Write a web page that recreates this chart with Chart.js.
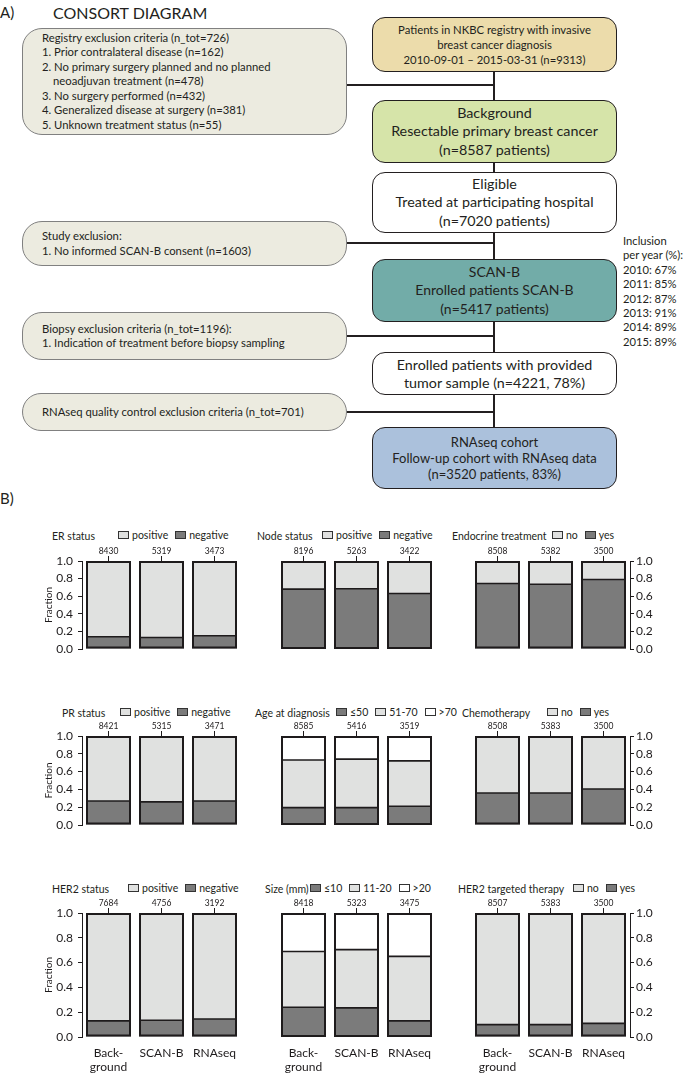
<!DOCTYPE html>
<html><head><meta charset="utf-8">
<script src="https://cdn.jsdelivr.net/npm/chart.js@4.4.0/dist/chart.umd.min.js"></script>
<style>
body{margin:0;background:#fff;}
#root{position:relative;width:685px;height:1073px;overflow:hidden;font-family:Lato,'Open Sans',sans-serif;color:#231f20;}
.rbox{position:absolute;left:372px;width:245px;box-sizing:border-box;border:1.5px solid #231f20;border-radius:13px;display:flex;align-items:center;justify-content:center;text-align:center;background:#fff;white-space:nowrap;}
.lbox{position:absolute;left:22px;width:325px;box-sizing:border-box;border:1.5px solid #808080;border-radius:20px;background:#ecebe0;font-size:11.3px;line-height:14.4px;padding-left:19px;display:flex;flex-direction:column;justify-content:center;white-space:nowrap;}
.hl{position:absolute;height:1.5px;background:#231f20;}
.vl{position:absolute;width:1.5px;background:#231f20;}
canvas{position:absolute;}
.ttl{position:absolute;font-size:10.5px;line-height:12px;white-space:nowrap;}
.leg{position:absolute;font-size:10.5px;line-height:12px;white-space:nowrap;display:flex;align-items:center;}
.sw{display:inline-block;width:9px;height:6px;border:1px solid #333;margin-right:3px;}
.it{display:flex;align-items:center;margin-right:7px;}
</style>
</head>
<body>
<div id="root">
  <div style="position:absolute;left:0;top:3px;font-size:15px;line-height:18px;">A)</div>
  <div style="position:absolute;left:53px;top:3px;font-size:16px;line-height:20px;">CONSORT DIAGRAM</div>

  <div class="vl" style="left:493px;top:72px;height:355px;"></div>
  <div class="hl" style="left:346px;top:84px;width:148px;"></div>
  <div class="hl" style="left:346px;top:242px;width:148px;"></div>
  <div class="hl" style="left:346px;top:335px;width:148px;"></div>
  <div class="hl" style="left:346px;top:411px;width:148px;"></div>

  <div class="lbox" style="top:28px;height:107px;">
    <div>Registry exclusion criteria (n_tot=726)</div>
    <div>1. Prior contralateral disease (n=162)</div>
    <div>2. No primary surgery planned and no planned</div>
    <div style="padding-left:11px">neoadjuvan treatment (n=478)</div>
    <div>3. No surgery performed (n=432)</div>
    <div>4. Generalized disease at surgery (n=381)</div>
    <div>5. Unknown treatment status (n=55)</div>
  </div>
  <div class="lbox" style="top:221px;height:45px;">
    <div>Study exclusion:</div>
    <div>1. No informed SCAN-B consent (n=1603)</div>
  </div>
  <div class="lbox" style="top:312px;height:48px;">
    <div>Biopsy exclusion criteria (n_tot=1196):</div>
    <div>1. Indication of treatment before biopsy sampling</div>
  </div>
  <div class="lbox" style="top:393px;height:38px;">
    <div>RNAseq quality control exclusion criteria (n_tot=701)</div>
  </div>

  <div class="rbox" style="top:17px;height:55px;background:#ecdcab;font-size:11.3px;line-height:15px;">
    <div>Patients in NKBC registry with invasive<br>breast cancer diagnosis<br>2010-09-01 – 2015-03-31 (n=9313)</div>
  </div>
  <div class="rbox" style="top:100px;height:63px;background:#d6e4a9;font-size:14.3px;line-height:18.5px;">
    <div>Background<br>Resectable primary breast cancer<br>(n=8587 patients)</div>
  </div>
  <div class="rbox" style="top:172px;height:61px;font-size:14.3px;line-height:18.5px;">
    <div>Eligible<br>Treated at participating hospital<br>(n=7020 patients)</div>
  </div>
  <div class="rbox" style="top:259px;height:63px;background:#72aca8;font-size:14px;line-height:18.5px;">
    <div>SCAN-B<br>Enrolled patients SCAN-B<br>(n=5417 patients)</div>
  </div>
  <div class="rbox" style="top:352px;height:43px;font-size:14.3px;line-height:18px;">
    <div>Enrolled patients with provided<br>tumor sample (n=4221, 78%)</div>
  </div>
  <div class="rbox" style="top:427px;height:62px;background:#abc1dc;font-size:13px;line-height:16px;">
    <div>RNAseq cohort<br>Follow-up cohort with RNAseq data<br>(n=3520 patients, 83%)</div>
  </div>

  <div style="position:absolute;left:623px;top:234px;font-size:11.2px;line-height:14.4px;white-space:nowrap;">
    Inclusion<br>per year (%):<br>2010: 67%<br>2011: 85%<br>2012: 87%<br>2013: 91%<br>2014: 89%<br>2015: 89%
  </div>

  <div style="position:absolute;left:0;top:489px;font-size:15px;line-height:18px;">B)</div>
</div>

<script>
// ---------- data ----------
const groupLabels = [['Back-', 'ground'], 'SCAN-B', 'RNAseq'];
const yTickLabels = ['0.0', '0.2', '0.4', '0.6', '0.8', '1.0'];

const erN = ['8430', '5319', '3473'];
const erNegative = [0.14, 0.13, 0.15];
const erPositive = [0.86, 0.87, 0.85];

const nodeN = ['8196', '5263', '3422'];
const nodeNegative = [0.68, 0.685, 0.63];
const nodePositive = [0.32, 0.315, 0.37];

const endoN = ['8508', '5382', '3500'];
const endoYes = [0.745, 0.735, 0.79];
const endoNo = [0.255, 0.265, 0.21];

const prN = ['8421', '5315', '3471'];
const prNegative = [0.27, 0.26, 0.27];
const prPositive = [0.73, 0.74, 0.73];

const ageN = ['8585', '5416', '3519'];
const ageUpTo50 = [0.195, 0.195, 0.21];
const age51to70 = [0.535, 0.545, 0.51];
const ageOver70 = [0.27, 0.26, 0.28];

const chemoN = ['8508', '5383', '3500'];
const chemoYes = [0.36, 0.36, 0.405];
const chemoNo = [0.64, 0.64, 0.595];

const her2N = ['7684', '4756', '3192'];
const her2Negative = [0.13, 0.135, 0.145];
const her2Positive = [0.87, 0.865, 0.855];

const sizeN = ['8418', '5323', '3475'];
const sizeUpTo10 = [0.24, 0.235, 0.13];
const size11to20 = [0.45, 0.47, 0.52];
const sizeOver20 = [0.31, 0.295, 0.35];

const her2tN = ['8507', '5383', '3500'];
const her2tYes = [0.10, 0.10, 0.11];
const her2tNo = [0.90, 0.90, 0.89];

// ---------- styles ----------
const DARK = '#7b7b7b', LIGHT = '#e0e1e0', WHITE = '#ffffff', INK = '#1e1b1c';

const panels = [
  {title: 'ER status', n: erN, series: [['negative', erNegative, DARK], ['positive', erPositive, LIGHT]], legend: ['positive', 'negative']},
  {title: 'Node status', n: nodeN, series: [['negative', nodeNegative, DARK], ['positive', nodePositive, LIGHT]], legend: ['positive', 'negative']},
  {title: 'Endocrine treatment', n: endoN, series: [['yes', endoYes, DARK], ['no', endoNo, LIGHT]], legend: ['no', 'yes']},
  {title: 'PR status', n: prN, series: [['negative', prNegative, DARK], ['positive', prPositive, LIGHT]], legend: ['positive', 'negative']},
  {title: 'Age at diagnosis', n: ageN, series: [['≤50', ageUpTo50, DARK], ['51-70', age51to70, LIGHT], ['>70', ageOver70, WHITE]], legend: ['≤50', '51-70', '>70']},
  {title: 'Chemotherapy', n: chemoN, series: [['yes', chemoYes, DARK], ['no', chemoNo, LIGHT]], legend: ['no', 'yes']},
  {title: 'HER2 status', n: her2N, series: [['negative', her2Negative, DARK], ['positive', her2Positive, LIGHT]], legend: ['positive', 'negative']},
  {title: 'Size (mm)', n: sizeN, series: [['≤10', sizeUpTo10, DARK], ['11-20', size11to20, LIGHT], ['>20', sizeOver20, WHITE]], legend: ['≤10', '11-20', '>20']},
  {title: 'HER2 targeted therapy', n: her2tN, series: [['yes', her2tYes, DARK], ['no', her2tNo, LIGHT]], legend: ['no', 'yes']}
];

// ---------- layout ----------
const colGeom = [
  {canvasL: 0, canvasW: 252, areaL: 82, areaR: 241, yPos: 'left'},
  {canvasL: 268, canvasW: 175, areaL: 277, areaR: 436, yPos: 'none'},
  {canvasL: 455, canvasW: 230, areaL: 471, areaR: 630, yPos: 'right'}
];
const rowTop = [561, 736, 913];
const rowBottom = [685, 861, 1037];
const titleY = [536, 713, 889];
const headPos = [
  [52, 118], [257, 322], [452, 552],
  [62, 120], [255, 336], [462, 547],
  [52, 128], [265, 310], [458, 573]
];

const root = document.getElementById('root');
const FONT = 'Lato, "Open Sans", sans-serif';

// Outline bars and segment boundaries using the bar elements laid out by Chart.js
const outlinePlugin = {
  id: 'barOutline',
  afterDatasetsDraw(chart) {
    const ctx = chart.ctx;
    const metas = chart.getSortedVisibleDatasetMetas();
    const n = chart.data.labels.length;
    ctx.save();
    ctx.strokeStyle = INK;
    for (let i = 0; i < n; i++) {
      let top = Infinity, bottom = -Infinity, left = 0, right = 0;
      metas.forEach((m, mi) => {
        const el = m.data[i];
        if (!el) return;
        const {x, y, base, width} = el.getProps(['x', 'y', 'base', 'width'], true);
        left = x - width / 2; right = x + width / 2;
        top = Math.min(top, y, base); bottom = Math.max(bottom, y, base);
        if (mi > 0) {
          ctx.lineWidth = 1.6;
          ctx.beginPath();
          ctx.moveTo(left, base);
          ctx.lineTo(right, base);
          ctx.stroke();
        }
      });
      ctx.lineWidth = 2;
      ctx.strokeRect(left + 1, top + 1, right - left - 2, bottom - top - 2);
    }
    ctx.restore();
  }
};

panels.forEach((p, idx) => {
  const row = Math.floor(idx / 3), col = idx % 3;
  const g = colGeom[col];
  const lastRow = row === 2;
  const top = rowTop[row] - 20;
  const bottomExtra = lastRow ? 36 : 8;
  const h = rowBottom[row] + bottomExtra - top;

  const t = document.createElement('div');
  t.className = 'ttl';
  t.style.left = headPos[idx][0] + 'px';
  t.style.top = (titleY[row] - 6) + 'px';
  t.textContent = p.title;
  root.appendChild(t);
  const lg = document.createElement('div');
  lg.className = 'leg';
  lg.style.left = headPos[idx][1] + 'px';
  lg.style.top = (titleY[row] - 7) + 'px';
  p.legend.forEach(name => {
    const s = p.series.find(x => x[0] === name);
    const it = document.createElement('span');
    it.className = 'it';
    const sw = document.createElement('span');
    sw.className = 'sw';
    sw.style.background = s[2];
    it.appendChild(sw);
    it.appendChild(document.createTextNode(name));
    lg.appendChild(it);
  });
  root.appendChild(lg);

  const cv = document.createElement('canvas');
  cv.width = g.canvasW; cv.height = h;
  cv.style.left = g.canvasL + 'px'; cv.style.top = top + 'px';
  cv.style.width = g.canvasW + 'px'; cv.style.height = h + 'px';
  root.appendChild(cv);

  let padL, padR, yWidth = 0;
  if (g.yPos === 'left') { padL = 43; yWidth = g.areaL - g.canvasL - padL; padR = g.canvasL + g.canvasW - g.areaR; }
  else if (g.yPos === 'right') { padL = g.areaL - g.canvasL; yWidth = 40; padR = g.canvasL + g.canvasW - g.areaR - yWidth; }
  else { padL = g.areaL - g.canvasL; padR = g.canvasL + g.canvasW - g.areaR; }

  const datasets = p.series.map(s => ({
    label: s[0], data: s[1], backgroundColor: s[2],
    borderWidth: 0, barPercentage: 45 / 53, categoryPercentage: 1
  }));

  new Chart(cv, {
    type: 'bar',
    data: {labels: groupLabels, datasets},
    plugins: [outlinePlugin],
    options: {
      responsive: false, animation: false, devicePixelRatio: 1,
      layout: {padding: {left: padL, right: padR, top: 0, bottom: lastRow ? 0 : 8}},
      plugins: {legend: {display: false}, tooltip: {enabled: false}},
      scales: {
        x: {
          stacked: true, display: lastRow, offset: true,
          grid: {display: false, drawTicks: false}, border: {display: false},
          ticks: {font: {family: FONT, size: 12, lineHeight: '14px'}, color: INK, padding: 9, maxRotation: 0, autoSkip: false},
          afterFit: s => { s.height = 36; }
        },
        xn: {
          type: 'category', position: 'top', labels: p.n, offset: true,
          grid: {display: true, drawOnChartArea: false, drawTicks: true, tickLength: 5, color: INK, offset: false, lineWidth: 1},
          border: {display: false},
          ticks: {font: {family: FONT, size: 8.5}, color: INK, padding: 0, maxRotation: 0, autoSkip: false},
          afterFit: s => { s.height = 20; }
        },
        y: {
          stacked: true, min: 0, max: 1, display: g.yPos !== 'none',
          position: g.yPos === 'right' ? 'right' : 'left',
          ticks: {stepSize: 0.2, callback: v => yTickLabels[Math.round(v * 5)], font: {family: FONT, size: 12}, color: INK, padding: g.yPos === 'left' ? 5 : 2},
          grid: {drawOnChartArea: false, drawTicks: true, tickLength: 4, color: INK},
          border: {display: true, color: INK, width: 1},
          title: {display: g.yPos === 'left', text: 'Fraction', font: {family: FONT, size: 10}, color: INK, padding: {top: 0, bottom: 0}},
          afterFit: s => { if (yWidth) s.width = yWidth; }
        }
      }
    }
  });
});
</script>
</body></html>
